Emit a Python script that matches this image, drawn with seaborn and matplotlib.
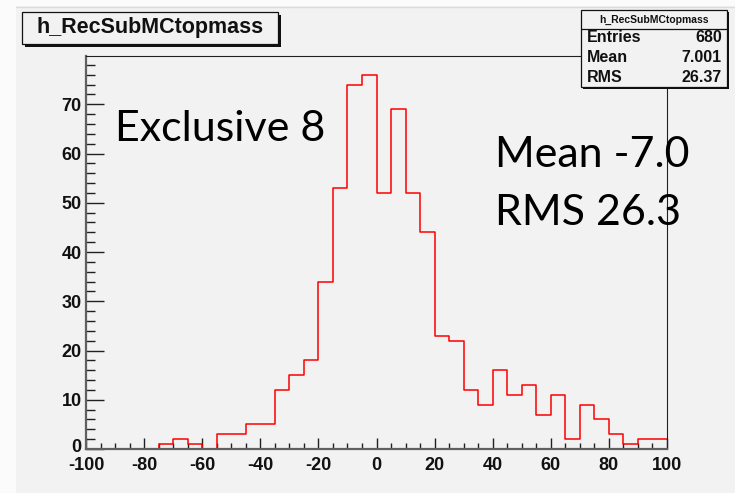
import numpy as np
import pandas as pd
import seaborn as sns
import matplotlib
matplotlib.use("Agg")
import matplotlib.pyplot as plt
import matplotlib.transforms as mtransforms
from matplotlib.patches import Rectangle
from matplotlib.ticker import MultipleLocator

# ---- data ----
bin_edges = list(range(-100, 101, 5))
counts = [0, 0, 0, 0, 0, 1, 2, 1, 0, 3,
          3, 5, 5, 12, 15, 18, 34, 53, 74, 76,
          52, 69, 52, 44, 23, 22, 12, 9, 16, 11,
          13, 7, 11, 2, 9, 6, 3, 1, 2, 2]
bin_centers = [e + 2.5 for e in bin_edges[:-1]]
hist_name = "h_RecSubMCtopmass"
stat_labels = ["Entries", "Mean", "RMS"]
stat_values = ["680", "7.001", "26.37"]
note_left = "Exclusive 8"
note_right = ["Mean -7.0", "RMS 26.3"]
x_ticks = list(range(-100, 101, 20))
y_ticks = list(range(0, 71, 10))

df = pd.DataFrame({"x": bin_centers, "w": counts})

W, H = 735, 493
BG = "#f2f2f2"
sns.set_theme(style="white")
plt.rcParams["font.family"] = ["Liberation Sans", "DejaVu Sans"]
plt.rcParams["axes.unicode_minus"] = False

fig = plt.figure(figsize=(W / 100, H / 100), dpi=100, facecolor=BG)

def fx(px):
    return px / W

def fy(py):
    return 1 - py / H

# white margins of the screenshot (left and top)
fig.patches.append(Rectangle((0, 0), fx(16), 1, transform=fig.transFigure,
                             facecolor="#fbfbfb", edgecolor="none", zorder=0))
fig.patches.append(Rectangle((0, fy(6)), 1, fy(0) - fy(6), transform=fig.transFigure,
                             facecolor="#fbfbfb", edgecolor="none", zorder=0))
fig.add_artist(plt.Line2D([fx(16), 1], [fy(6.5), fy(6.5)], transform=fig.transFigure,
                          color="#dcdcdc", linewidth=1.0, zorder=1))

L, R, T, B = 86, 667, 56, 449
ax = fig.add_axes([fx(L), fy(B), fx(R) - fx(L), fy(T) - fy(B)])
ax.set_facecolor(BG)

sns.histplot(data=df, x="x", weights="w", bins=bin_edges, element="step",
             fill=False, color="#ff0000", linewidth=1.1, ax=ax)

ax.set_xlim(-100, 100)
ax.set_ylim(0, 79.8)
ax.set_xlabel("")
ax.set_ylabel("")
ax.set_xticks(x_ticks)
ax.set_yticks(y_ticks)
ax.xaxis.set_minor_locator(MultipleLocator(5))
ax.yaxis.set_minor_locator(MultipleLocator(2))
ax.tick_params(axis="x", which="major", direction="in", length=8, width=1,
               color="#202020", labelsize=13, pad=6, bottom=True, top=False)
ax.tick_params(axis="x", which="minor", direction="in", length=4, width=1,
               color="#202020", bottom=True, top=False)
ax.tick_params(axis="y", which="major", direction="in", length=13, width=1,
               color="#202020", labelsize=13, pad=3, left=True, right=False)
ax.tick_params(axis="y", which="minor", direction="in", length=6.5, width=1,
               color="#202020", left=True, right=False)
for lab in ax.get_xticklabels() + ax.get_yticklabels():
    lab.set_fontweight("bold")
    lab.set_color("#111111")

# lift the "0" y label slightly so it does not collide with "-100"
zero_lab = ax.yaxis.get_major_ticks()[0].label1
zero_lab.set_transform(zero_lab.get_transform() +
                       mtransforms.ScaledTranslation(0, 4 / 100, fig.dpi_scale_trans))

for s in ["left", "bottom"]:
    ax.spines[s].set_color("#606060")
    ax.spines[s].set_linewidth(1.6)
for s in ["top", "right"]:
    ax.spines[s].set_color("#202020")
    ax.spines[s].set_linewidth(0.8)

# annotations in Calibri-like font
fig.text(fx(115), fy(141), note_left, fontsize=31, family="Lato",
         color="black", ha="left", va="baseline")
fig.text(fx(495), fy(167), note_right[0], fontsize=31, family="Lato",
         color="black", ha="left", va="baseline")
fig.text(fx(495), fy(225), note_right[1], fontsize=31, family="Lato",
         color="black", ha="left", va="baseline")

# title box
def box(x0, y0, x1, y1, shadow=3):
    fig.patches.append(Rectangle((fx(x0 + shadow), fy(y1 + shadow)),
                                 fx(x1 - x0), fy(y0) - fy(y1),
                                 transform=fig.transFigure, facecolor="#111111",
                                 edgecolor="none", zorder=5))
    fig.patches.append(Rectangle((fx(x0), fy(y1)), fx(x1 - x0), fy(y0) - fy(y1),
                                 transform=fig.transFigure, facecolor=BG,
                                 edgecolor="#111111", linewidth=0.9, zorder=6))

box(22, 12, 278, 44)
fig.text(fx(150), fy(28), hist_name, fontsize=15.5, fontweight="bold",
         ha="center", va="center", color="#111111", zorder=7)

# stats box
box(581, 10, 727, 87, shadow=2)
fig.add_artist(plt.Line2D([fx(581), fx(727)], [fy(29), fy(29)],
                          transform=fig.transFigure, color="#111111",
                          linewidth=0.9, zorder=7))
fig.text(fx(654), fy(19.5), hist_name, fontsize=7.5, fontweight="bold",
         ha="center", va="center", color="#111111", zorder=7)
for i, (lab, val) in enumerate(zip(stat_labels, stat_values)):
    yy = 38 + i * 20
    fig.text(fx(587), fy(yy), lab, fontsize=11.5, fontweight="bold",
             ha="left", va="center", color="#111111", zorder=7)
    fig.text(fx(722), fy(yy), val, fontsize=11.5, fontweight="bold",
             ha="right", va="center", color="#111111", zorder=7)

fig.savefig("out.png", dpi=100, facecolor=BG)
